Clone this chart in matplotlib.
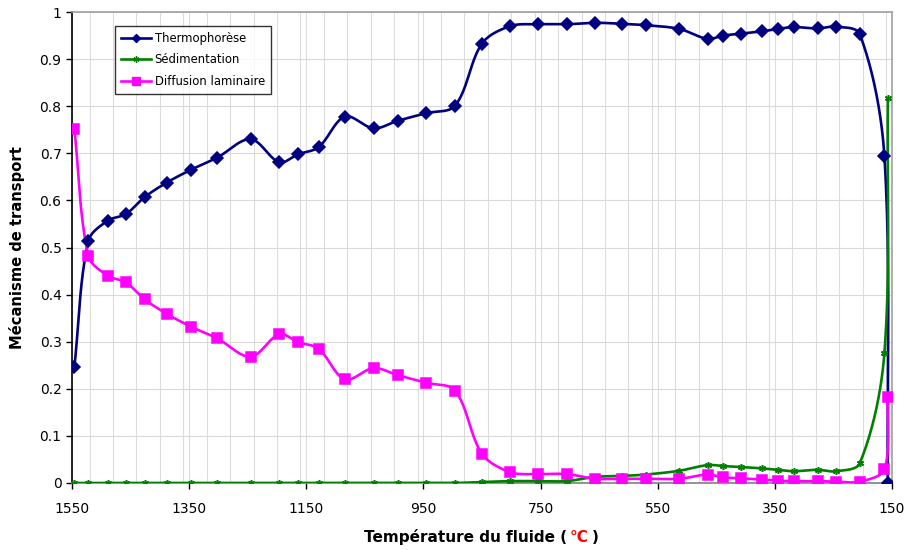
import numpy as np
import matplotlib
matplotlib.use("Agg")
import matplotlib.pyplot as plt
from matplotlib.offsetbox import TextArea, HPacker, AnchoredOffsetbox
from matplotlib.ticker import MultipleLocator
from matplotlib.lines import Line2D

# ---- data ----
temps = [1546, 1522, 1489, 1458, 1426, 1388, 1347, 1302, 1245, 1196, 1164, 1129,
         1084, 1035, 994, 946, 896, 850, 802, 754, 705, 657, 611, 570, 513, 465,
         438, 408, 372, 345, 318, 277, 246, 205, 163, 157]
thermo = [0.246, 0.514, 0.557, 0.571, 0.607, 0.638, 0.665, 0.691, 0.730, 0.681,
          0.698, 0.713, 0.778, 0.753, 0.769, 0.785, 0.801, 0.933, 0.970, 0.974,
          0.974, 0.977, 0.975, 0.972, 0.964, 0.943, 0.950, 0.954, 0.959, 0.964,
          0.968, 0.965, 0.969, 0.953, 0.694, 0.0]
sedim = [0, 0, 0, 0, 0, 0, 0, 0, 0, 0, 0, 0, 0, 0, 0, 0, 0, 0.002, 0.004, 0.004,
         0.004, 0.013, 0.015, 0.018, 0.026, 0.038, 0.036, 0.034, 0.031, 0.028,
         0.025, 0.028, 0.025, 0.042, 0.275, 0.817]
diffu = [0.752, 0.482, 0.440, 0.426, 0.390, 0.359, 0.332, 0.307, 0.268, 0.316,
         0.299, 0.285, 0.220, 0.244, 0.229, 0.213, 0.196, 0.062, 0.023, 0.019,
         0.019, 0.009, 0.009, 0.009, 0.009, 0.018, 0.012, 0.010, 0.007, 0.005,
         0.004, 0.004, 0.003, 0.003, 0.029, 0.182]
series_names = ["Thermophorèse", "Sédimentation", "Diffusion laminaire"]
xticks = [1550, 1350, 1150, 950, 750, 550, 350, 150]

XMIN, XMAX = 1550, 150
AX_W_PX, AX_H_PX = 820, 471


def smooth(x, y, n=24):
    """Excel-like smoothed line: Bezier segments with tangents computed in
    screen space and scaled by neighbouring segment lengths."""
    sx = AX_W_PX / abs(XMAX - XMIN)
    sy = AX_H_PX / 1.0
    P = np.column_stack([np.asarray(x, float) * sx, np.asarray(y, float) * sy])
    m = len(P)
    d = np.hypot(*np.diff(P, axis=0).T)
    out = []
    t = np.linspace(0, 1, n)[:, None]
    for i in range(m - 1):
        p1, p2 = P[i], P[i + 1]
        if i == 0:
            b1 = p1 + (p2 - p1) / 3.0
        else:
            T = P[i + 1] - P[i - 1]
            tot = d[i - 1] + d[i]
            b1 = p1 + T * (d[i] / tot) / 3.0 if tot > 0 else p1
        if i + 1 == m - 1:
            b2 = p2 - (p2 - p1) / 3.0
        else:
            T = P[i + 2] - P[i]
            tot = d[i] + d[i + 1]
            b2 = p2 - T * (d[i] / tot) / 3.0 if tot > 0 else p2
        seg = ((1 - t) ** 3) * p1 + 3 * ((1 - t) ** 2) * t * b1 + 3 * (1 - t) * t ** 2 * b2 + t ** 3 * p2
        out.append(seg if i == 0 else seg[1:])
    out = np.vstack(out)
    return out[:, 0] / sx, out[:, 1] / sy


plt.rcParams['font.family'] = ['DejaVu Sans']
fig = plt.figure(figsize=(9.05, 5.5), dpi=100)
ax = fig.add_axes([72 / 905, 1 - 483 / 550, AX_W_PX / 905, AX_H_PX / 550])

styles = [
    dict(color='#000080', marker='D', ms=6.3, lw=1.9, lms=4.5),
    dict(color='#008000', marker=(6, 2, 0), ms=5, lw=1.9, lms=4.5),
    dict(color='#FF00FF', marker='s', ms=7, lw=1.9, lms=5.5),
]
handles = []
for vals, name, st in zip([thermo, sedim, diffu], series_names, styles):
    sx_, sy_ = smooth(temps, vals)
    ax.plot(sx_, sy_, color=st['color'], lw=st['lw'], solid_capstyle='round', zorder=3)
    ax.plot(temps, vals, linestyle='none', marker=st['marker'], ms=st['ms'],
            color=st['color'], mec=st['color'], mew=1.1, zorder=4)
    handles.append(Line2D([], [], color=st['color'], lw=st['lw'], marker=st['marker'],
                          ms=st['lms'], mec=st['color'], mew=1.0, label=name))

ax.set_xlim(XMIN, XMAX)
ax.set_ylim(0, 1)
ax.set_xticks(xticks)
ax.set_xticklabels([str(v) for v in xticks])
ax.xaxis.set_minor_locator(MultipleLocator(40))
ax.set_yticks(np.round(np.arange(0, 1.01, 0.1), 1))
ax.set_yticklabels(['0'] + [f"{v:.1f}" for v in np.arange(0.1, 0.95, 0.1)] + ['1'])
ax.grid(True, which='major', axis='y', color='#d9d9d9', lw=0.8)
ax.grid(True, which='both', axis='x', color='#dcdcdc', lw=0.8)
ax.set_axisbelow(True)
ax.tick_params(axis='both', which='major', direction='out', length=4, width=1,
               labelsize=10, colors='black')
ax.tick_params(axis='x', which='major', pad=10)
ax.tick_params(axis='x', which='minor', length=0)
ax.spines['left'].set_color('black')
ax.spines['bottom'].set_color('#808080')
ax.spines['top'].set_color('#a0a0a0')
ax.spines['right'].set_color('#a0a0a0')
for s in ax.spines.values():
    s.set_linewidth(1.2)

ax.set_ylabel("Mécanisme de transport", fontsize=10.6, fontweight='bold')
ax.yaxis.set_label_coords((25 - 72) / AX_W_PX, 0.5)

leg = ax.legend(handles=handles, loc='upper left',
                bbox_to_anchor=((115 - 72) / AX_W_PX, (483 - 25.5) / AX_H_PX),
                frameon=True, fancybox=False, edgecolor='black', fontsize=8.4,
                handlelength=2.5, borderpad=0.55, labelspacing=0.72, handletextpad=0.35,
                borderaxespad=0)
leg.get_frame().set_linewidth(1.0)

tp = dict(fontsize=11, fontweight='bold', color='black')
parts = [TextArea("Température du fluide (", textprops=tp),
         TextArea("°C", textprops=dict(fontsize=11, fontweight='bold', color='red')),
         TextArea(")", textprops=tp)]
box = HPacker(children=parts, align='baseline', pad=0, sep=2)
anch = AnchoredOffsetbox(loc='center', child=box, frameon=False,
                         bbox_to_anchor=(481 / 905, 1 - 537 / 550),
                         bbox_transform=fig.transFigure, borderpad=0, pad=0)
fig.add_artist(anch)

fig.savefig("out.png", dpi=100)
